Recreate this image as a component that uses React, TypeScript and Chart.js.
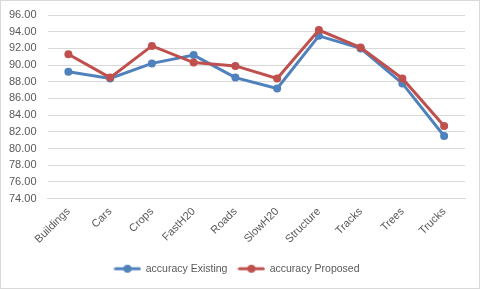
import React, { useEffect, useRef } from "react";
import { Chart, registerables } from "chart.js";

Chart.register(...registerables);

const categories = ["Buildings", "Cars", "Crops", "FastH20", "Roads", "SlowH20", "Structure", "Tracks", "Trees", "Trucks"];
const existing = [89.2, 88.4, 90.2, 91.2, 88.5, 87.2, 93.5, 92.0, 87.8, 81.5];
const proposed = [91.3, 88.5, 92.3, 90.3, 89.9, 88.4, 94.2, 92.1, 88.4, 82.7];
const seriesNames = ["accuracy Existing", "accuracy Proposed"];
const yMin = 74;
const yMax = 96;
const yStep = 2;

const BLUE = "#4F81BD";
const RED = "#C0504D";
const FONT = "'Liberation Sans', Arial, sans-serif";

function legendIcon(color: string): HTMLCanvasElement {
  const c = document.createElement("canvas");
  c.width = 28;
  c.height = 10;
  const ctx = c.getContext("2d")!;
  ctx.strokeStyle = color;
  ctx.lineWidth = 3;
  ctx.lineCap = "round";
  ctx.beginPath();
  ctx.moveTo(2, 5);
  ctx.lineTo(26, 5);
  ctx.stroke();
  ctx.fillStyle = color;
  ctx.beginPath();
  ctx.arc(14, 5, 4, 0, Math.PI * 2);
  ctx.fill();
  return c;
}

export default function App() {
  const ref = useRef<HTMLCanvasElement | null>(null);
  useEffect(() => {
    document.body.style.margin = "0";
    const icons = [legendIcon(BLUE), legendIcon(RED)];
    const chart = new Chart(ref.current!, {
      type: "line",
      data: {
        labels: categories,
        datasets: [
          {
            label: seriesNames[0],
            data: existing,
            borderColor: BLUE,
            backgroundColor: BLUE,
            borderWidth: 3,
            pointRadius: 4,
            pointBackgroundColor: BLUE,
            pointBorderColor: BLUE,
            pointBorderWidth: 0,
            tension: 0,
            order: 1,
          },
          {
            label: seriesNames[1],
            data: proposed,
            borderColor: RED,
            backgroundColor: RED,
            borderWidth: 3,
            pointRadius: 4,
            pointBackgroundColor: RED,
            pointBorderColor: RED,
            pointBorderWidth: 0,
            tension: 0,
            order: 0,
          },
        ],
      },
      options: {
        animation: false,
        responsive: false,
        maintainAspectRatio: false,
        layout: { padding: { left: 8, right: 14, top: 14, bottom: 4 } },
        plugins: {
          tooltip: { enabled: false },
          legend: {
            position: "bottom",
            labels: {
              usePointStyle: true,
              pointStyleWidth: 26,
              boxHeight: 10,
              color: "#595959",
              font: { family: FONT, size: 10.5 },
              padding: 11,
              sort: (a: any, b: any) => a.datasetIndex - b.datasetIndex,
              generateLabels: (ch: any) =>
                (Chart.defaults.plugins.legend.labels.generateLabels as any)(ch).map((l: any) => ({
                  ...l,
                  pointStyle: icons[l.datasetIndex],
                })),
            },
          },
        },
        scales: {
          x: {
            offset: true,
            grid: { display: false, drawTicks: false },
            border: { display: true, color: "#d9d9d9" },
            afterFit: (s: any) => {
              s.paddingLeft = 0;
              s.paddingRight = 0;
            },
            ticks: {
              color: "#595959",
              font: { family: FONT, size: 11 },
              minRotation: 45,
              maxRotation: 45,
              autoSkip: false,
              padding: 6.5,
            },
          },
          y: {
            min: yMin,
            max: yMax,
            grid: { color: "#d9d9d9", drawTicks: false },
            border: { display: false },
            afterFit: (s: any) => {
              s.width = s.width - s.options.ticks.padding;
              s.paddingTop = 0;
              s.paddingBottom = 0;
            },
            ticks: {
              stepSize: yStep,
              autoSkip: false,
              color: "#595959",
              font: { family: FONT, size: 11 },
              padding: 11,
              callback: (v: any) => Number(v).toFixed(2),
            },
          },
        },
      },
    });
    return () => chart.destroy();
  }, []);
  return (
    <div
      style={{
        position: "absolute",
        left: 0,
        top: 0,
        width: 480,
        height: 289,
        boxSizing: "border-box",
        border: "1px solid #d9d9d9",
        background: "#fff",
      }}
    >
      <canvas ref={ref} width={478} height={287} style={{ display: "block" }} />
    </div>
  );
}
